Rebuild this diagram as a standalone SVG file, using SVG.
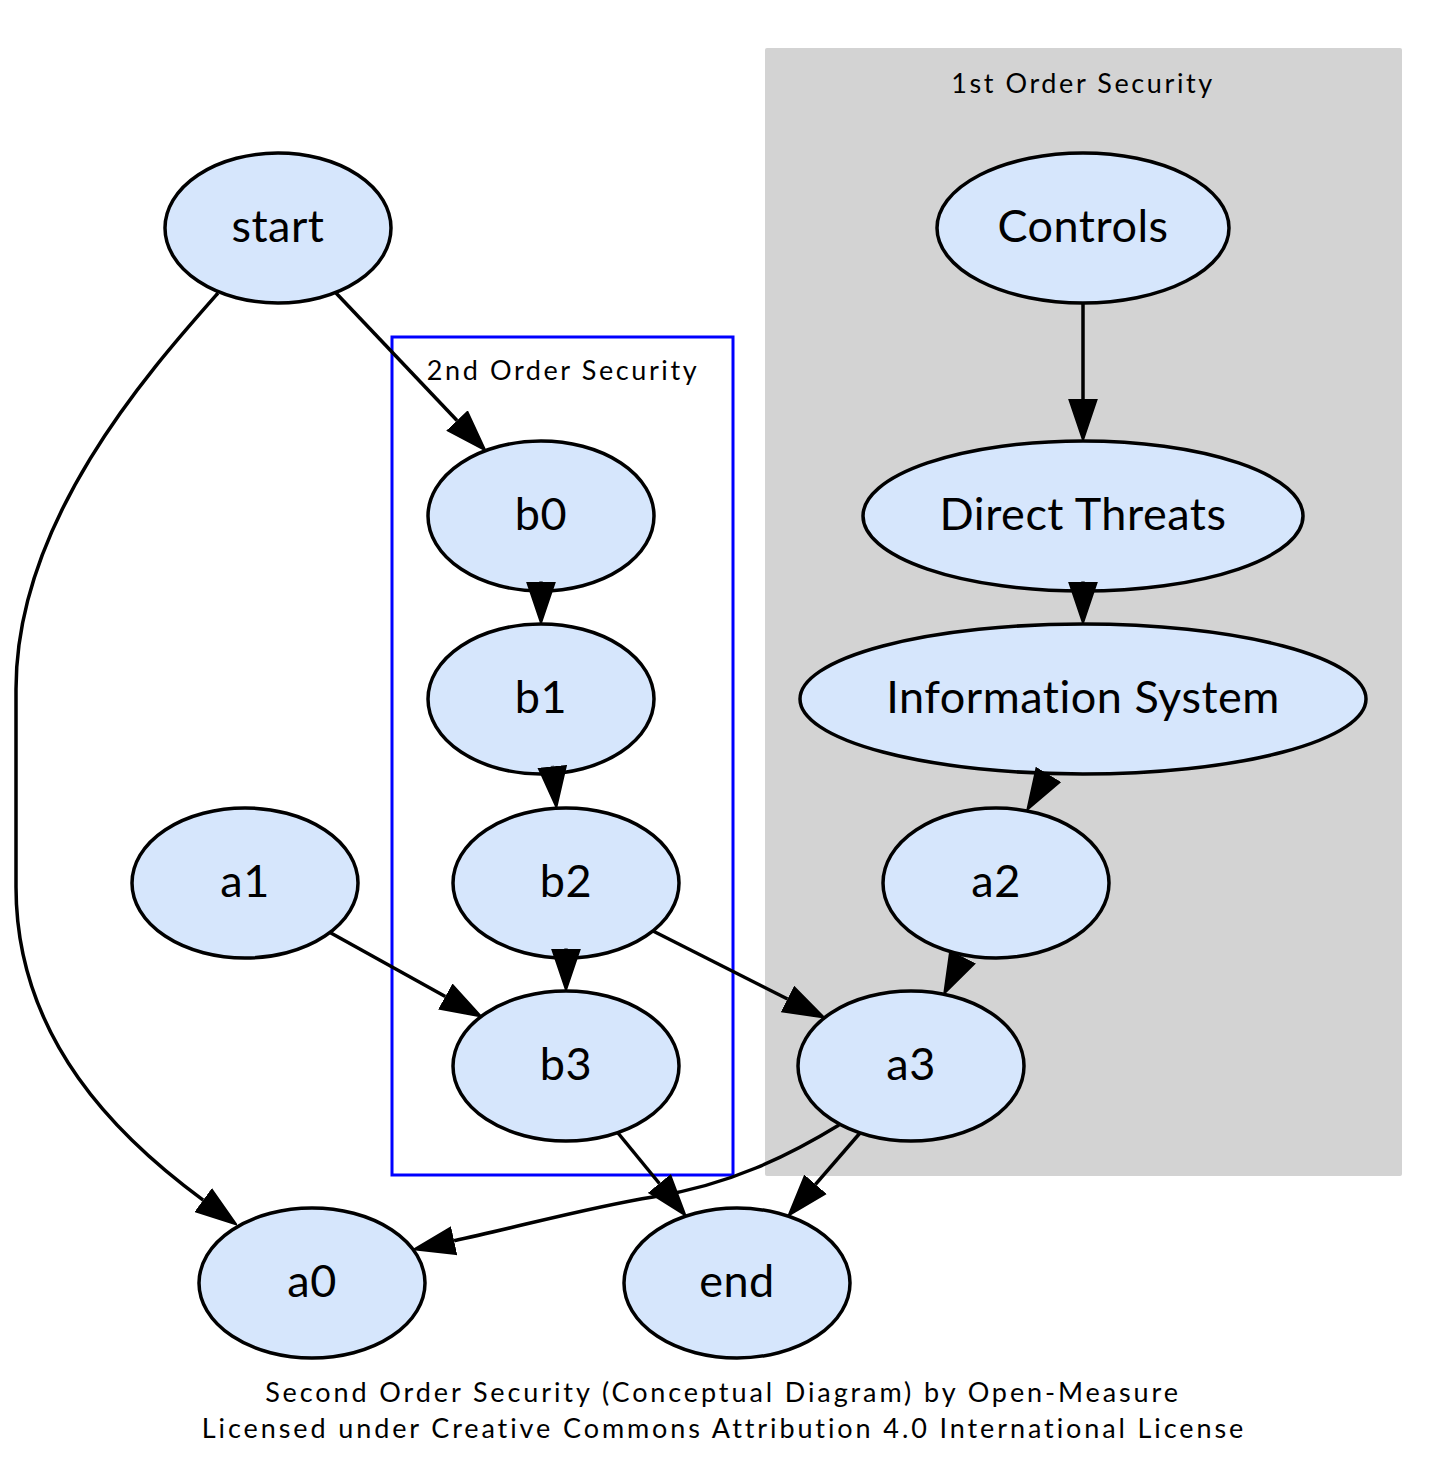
<svg xmlns="http://www.w3.org/2000/svg" width="1450" height="1483" viewBox="0 0 1450 1483">
<style>
.node ellipse{fill:#d6e6fc;stroke:#000;stroke-width:3.5}
.node text{font-family:Lato,"Open Sans",sans-serif;font-size:45px;letter-spacing:0.5px;fill:#000;text-anchor:middle}
.clabel{font-family:Lato,"Open Sans",sans-serif;font-size:27px;letter-spacing:2.6px;fill:#000;text-anchor:middle}
.caption{font-family:Lato,"Open Sans",sans-serif;font-size:27px;letter-spacing:2.9px;fill:#000;text-anchor:middle}
#edges path{fill:none;stroke:#000;stroke-width:3.5;marker-end:url(#arr)}
</style>
<defs>
<marker id="arr" viewBox="0 0 42 30" refX="0" refY="15" markerWidth="42" markerHeight="30" markerUnits="userSpaceOnUse" orient="auto">
<path d="M1,1.5 L41,15 L1,28.5 Z" fill="#000" stroke="#000" stroke-width="2"/>
</marker>
</defs>
<rect width="1450" height="1483" fill="#fff"/>
<g id="cluster1">
<rect x="765" y="48" width="637" height="1128" rx="2" fill="#d3d3d3"/>
<text class="clabel" x="1083" y="93">1st Order Security</text>
</g>
<g id="cluster2">
<rect x="392" y="337" width="341" height="838" fill="none" stroke="#0000ff" stroke-width="3"/>
<text class="clabel" x="563" y="380">2nd Order Security</text>
</g>
<g id="n-start" class="node"><ellipse cx="278" cy="228" rx="113" ry="75"/><text x="278" y="242">start</text></g>
<g id="n-controls" class="node"><ellipse cx="1083" cy="228" rx="146" ry="75"/><text x="1083" y="242">Controls</text></g>
<g id="n-b0" class="node"><ellipse cx="541" cy="516" rx="113" ry="75"/><text x="541" y="530">b0</text></g>
<g id="n-direct" class="node"><ellipse cx="1083" cy="516" rx="220" ry="75"/><text x="1083" y="530">Direct Threats</text></g>
<g id="n-b1" class="node"><ellipse cx="541" cy="699" rx="113" ry="75"/><text x="541" y="713">b1</text></g>
<g id="n-info" class="node"><ellipse cx="1083" cy="699" rx="283" ry="75"/><text x="1083" y="713">Information System</text></g>
<g id="n-a1" class="node"><ellipse cx="245" cy="883" rx="113" ry="75"/><text x="245" y="897">a1</text></g>
<g id="n-b2" class="node"><ellipse cx="566" cy="883" rx="113" ry="75"/><text x="566" y="897">b2</text></g>
<g id="n-a2" class="node"><ellipse cx="996" cy="883" rx="113" ry="75"/><text x="996" y="897">a2</text></g>
<g id="n-b3" class="node"><ellipse cx="566" cy="1066" rx="113" ry="75"/><text x="566" y="1080">b3</text></g>
<g id="n-a3" class="node"><ellipse cx="911" cy="1066" rx="113" ry="75"/><text x="911" y="1080">a3</text></g>
<g id="n-a0" class="node"><ellipse cx="312" cy="1283" rx="113" ry="75"/><text x="312" y="1297">a0</text></g>
<g id="n-end" class="node"><ellipse cx="737" cy="1283" rx="113" ry="75"/><text x="737" y="1297">end</text></g>
<g id="edges">
<path d="M336,293 L457,420.5"/>
<path d="M218,293 C150,370 16,520 16,689 L16,887 C16,1040 120,1139 203.2,1200.1"/>
<path d="M1083,303 L1083,399"/>
<path d="M1083,581.5 L1083,582"/>
<path d="M1048.8,773.9 L1048.5,774.4"/>
<path d="M962.8,956.4 L962.6,956.8"/>
<path d="M541,581.5 L541,582"/>
<path d="M552.25,765.9 L552.3,766.4"/>
<path d="M566,948.5 L566,949"/>
<path d="M330,932.5 L445.3,996.5"/>
<path d="M653,931 L787.5,999"/>
<path d="M618,1133 L659.4,1183.5"/>
<path d="M860,1133 L815.5,1184.3"/>
<path d="M839,1125 C790,1155 730,1185 653,1197 C590,1207 522,1226 454.1,1240.7"/>
</g>
<g id="caption">
<text class="caption" x="723" y="1402">Second Order Security (Conceptual Diagram) by Open-Measure</text>
<text class="caption" x="724" y="1438">Licensed under Creative Commons Attribution 4.0 International License</text>
</g>
</svg>
